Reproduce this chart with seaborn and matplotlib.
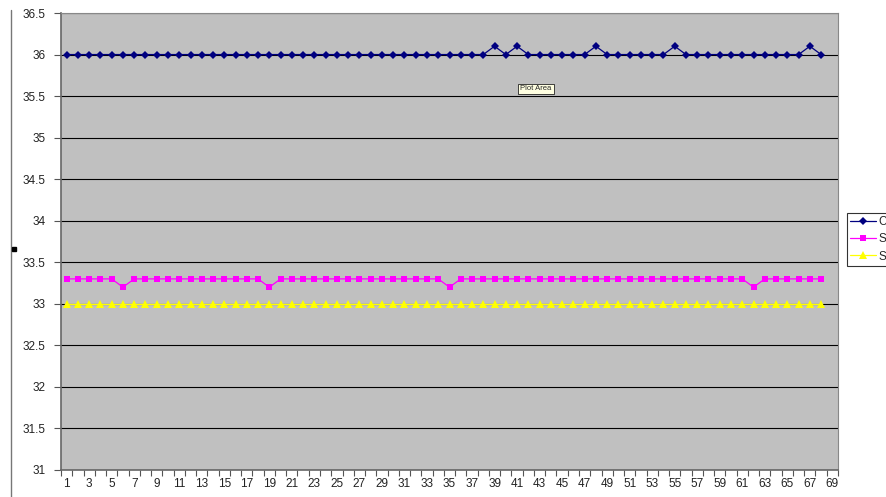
import numpy as np
import pandas as pd
import matplotlib
matplotlib.use('Agg')
import matplotlib.pyplot as plt
from matplotlib.lines import Line2D
import seaborn as sns

# --------------- DATA -----------------
points = list(range(1, 69))          # 68 readings, category axis runs to 69
series_names = ["C", "S", "S "]

c_peaks = [39, 41, 48, 55, 67]       # readings at 36.1
s1_dips = [6, 19, 35, 62]            # readings at 33.2

c_values = [36.1 if p in c_peaks else 36.0 for p in points]
s1_values = [33.2 if p in s1_dips else 33.3 for p in points]
s2_values = [33.0 for p in points]

y_ticks = [31, 31.5, 32, 32.5, 33, 33.5, 34, 34.5, 35, 35.5, 36, 36.5]
x_labels = list(range(1, 70, 2))

df = pd.DataFrame({"Point": points, "C": c_values, "S1": s1_values, "S2": s2_values})

# --------------- PLOT -----------------
sns.set_style("white")
plt.rcParams['font.family'] = ['Liberation Sans', 'DejaVu Sans']

fig = plt.figure(figsize=(8.86, 4.97), dpi=100)
ax = fig.add_axes([61 / 886, 27 / 497, 777 / 886, 457 / 497])
ax.set_facecolor("#C0C0C0")

sns.lineplot(data=df, x="Point", y="C", ax=ax, color="#000080", marker="D",
             markersize=4.5, markeredgewidth=0, linewidth=0.9, label=series_names[0])
sns.lineplot(data=df, x="Point", y="S1", ax=ax, color="#FF00FF", marker="s",
             markersize=5, markeredgewidth=0, linewidth=0.9, label=series_names[1])
sns.lineplot(data=df, x="Point", y="S2", ax=ax, color="#FFFF00", marker="^",
             markersize=5.5, markeredgewidth=0, linewidth=0.9, label=series_names[2])

ax.set_xlim(0.5, 69.5)
ax.set_ylim(31, 36.5)
ax.set_xlabel("")
ax.set_ylabel("")

# y axis: gridlines every 0.5
ax.set_yticks(y_ticks)
ax.set_yticklabels([f"{v:g}" for v in y_ticks])
ax.yaxis.grid(True, color="#000000", linewidth=0.8)
ax.set_axisbelow(True)

# x axis: labels on every other category, tick marks between categories
ax.set_xticks(x_labels)
ax.set_xticklabels([str(v) for v in x_labels])
ax.set_xticks(np.arange(0.5, 70, 1), minor=True)
ax.tick_params(axis="x", which="major", length=0, pad=6)
ax.tick_params(axis="x", which="minor", length=4, width=0.8, color="#555555",
               direction="out", bottom=True)
ax.tick_params(axis="y", length=5, width=0.8, color="#555555", direction="out",
               left=True, pad=6)
ax.tick_params(axis="both", labelsize=8.5, labelcolor="#222222")

for side in ["top", "right"]:
    ax.spines[side].set_color("#888888")
    ax.spines[side].set_linewidth(0.8)
for side in ["left", "bottom"]:
    ax.spines[side].set_color("#666666")
    ax.spines[side].set_linewidth(1.2)

# legend sitting at the right edge, cut off like the reference
ax.get_legend().remove()
handles, labels = ax.get_legend_handles_labels()
leg = fig.legend(handles, ["C", "S", "S"], loc="upper left",
                 bbox_to_anchor=(847 / 886, 1 - 213 / 497), frameon=True,
                 fancybox=False, edgecolor="#000000", fontsize=8.5,
                 handlelength=2.2, handletextpad=0.2, borderpad=0.25,
                 labelspacing=0.45, borderaxespad=0)
leg.get_frame().set_linewidth(0.8)

# tooltip and chart-area decorations
fig.text(536 / 886, 1 - 89 / 497, "Plot Area", fontsize=5.5, ha="center", va="center",
         bbox=dict(boxstyle="square,pad=0.25", facecolor="#FFFFE1", edgecolor="#000000",
                   linewidth=0.5))
fig.add_artist(Line2D([11 / 886, 11 / 886], [0, 1 - 10 / 497], color="#777777",
                      linewidth=1, transform=fig.transFigure))
fig.add_artist(Line2D([14 / 886], [1 - 249 / 497], marker="s", markersize=3,
                      color="#000000", transform=fig.transFigure))

fig.savefig("out.png", dpi=100)
